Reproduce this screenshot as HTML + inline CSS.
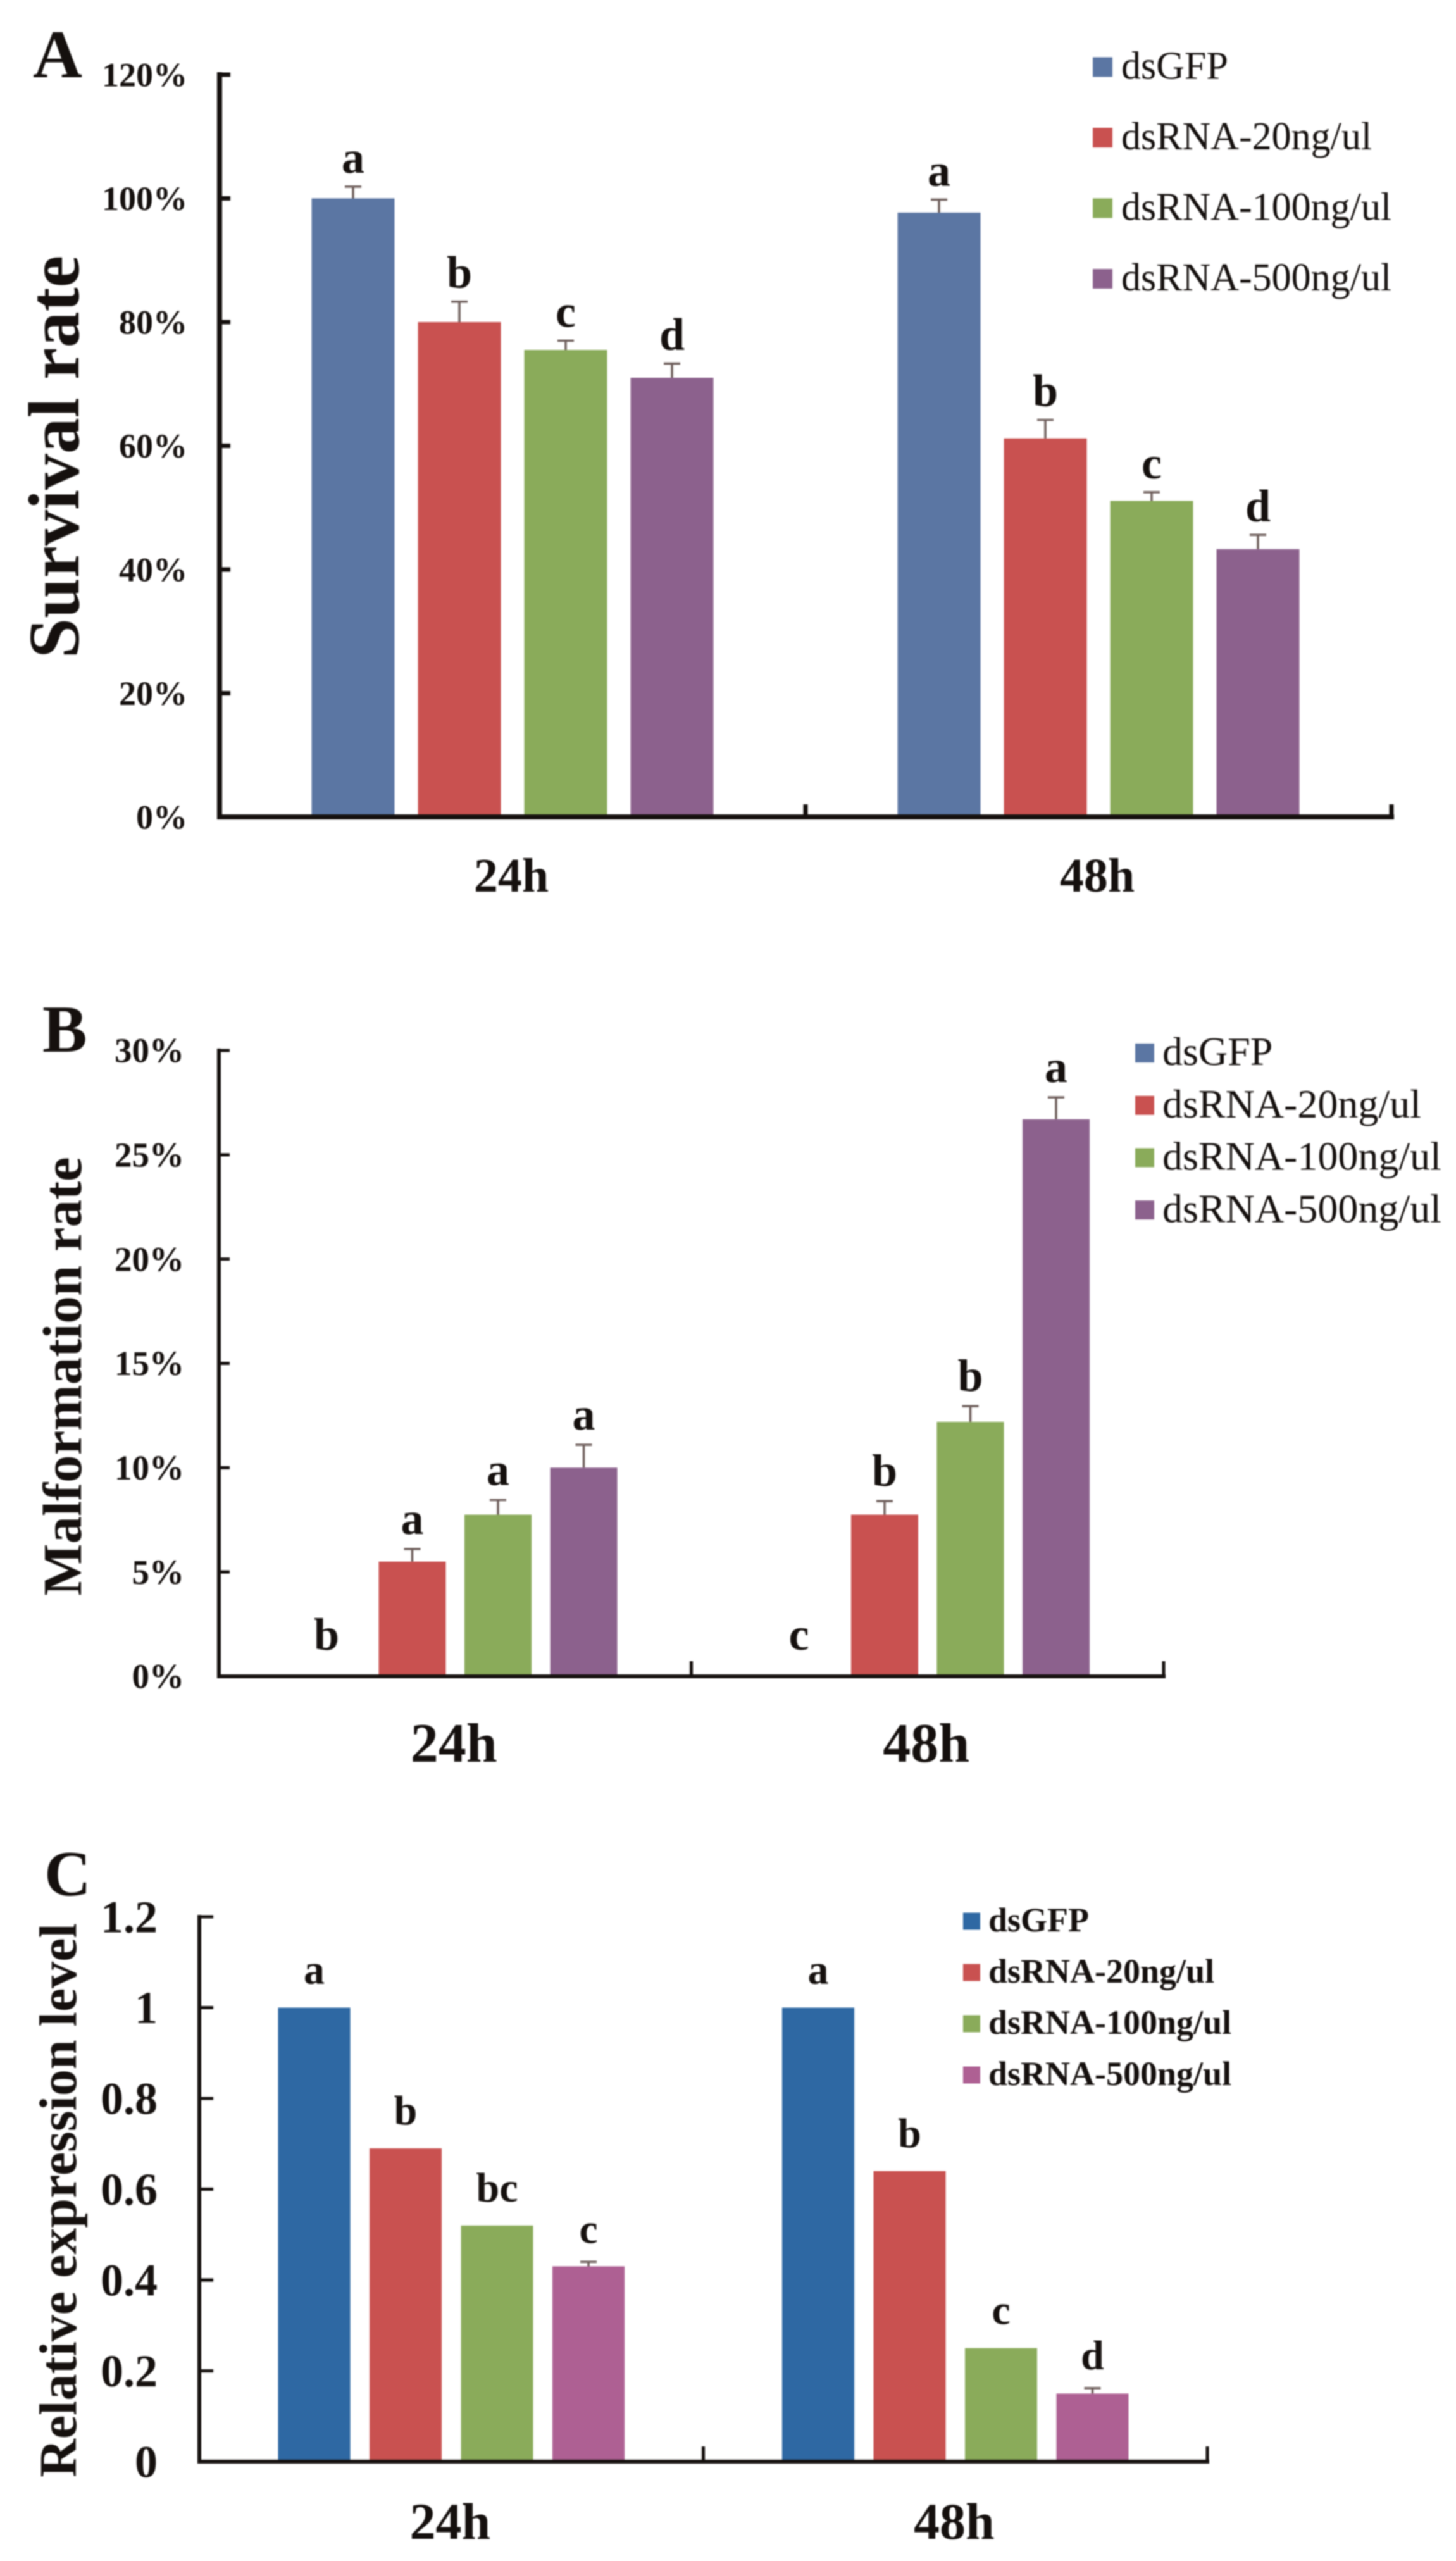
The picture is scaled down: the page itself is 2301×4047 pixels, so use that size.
<!DOCTYPE html>
<html lang="en">
<head>
<meta charset="utf-8">
<title>Survival, malformation and relative expression after dsRNA treatment</title>
<style>
  html, body { margin: 0; padding: 0; background: #fff; }
  body { width: 2301px; height: 4047px; overflow: hidden; }
  svg { display: block; filter: blur(1px); }
  text { font-family: "Liberation Serif", "DejaVu Serif", serif; fill: #15100e; }
</style>
</head>
<body>
<svg id="figure" xmlns="http://www.w3.org/2000/svg" width="2301" height="4047" viewBox="0 0 2301 4047"></svg>
<script>
const categories = ['24h', '48h'];
const seriesNames = ['dsGFP', 'dsRNA-20ng/ul', 'dsRNA-100ng/ul', 'dsRNA-500ng/ul'];

const survivalTicks = [0, 20, 40, 60, 80, 100, 120];
const survivalValues24h = [100, 80, 75.5, 71];
const survivalValues48h = [97.7, 61.2, 51.1, 43.3];
const survivalErrors24h = [1.9, 3.3, 1.5, 2.3];
const survivalErrors48h = [2.1, 3, 1.4, 2.3];
const survivalLetters24h = ['a', 'b', 'c', 'd'];
const survivalLetters48h = ['a', 'b', 'c', 'd'];

const malformationTicks = [0, 5, 10, 15, 20, 25, 30];
const malformationValues24h = [0, 5.5, 7.75, 10];
const malformationValues48h = [0, 7.75, 12.2, 26.7];
const malformationErrors24h = [0, 0.6, 0.7, 1.1];
const malformationErrors48h = [0, 0.65, 0.75, 1.05];
const malformationLetters24h = ['b', 'a', 'a', 'a'];
const malformationLetters48h = ['c', 'b', 'b', 'a'];

const expressionTicks = [0, 0.2, 0.4, 0.6, 0.8, 1, 1.2];
const expressionValues24h = [1, 0.69, 0.52, 0.43];
const expressionValues48h = [1, 0.64, 0.25, 0.15];
const expressionErrors24h = [0, 0, 0, 0.01];
const expressionErrors48h = [0, 0, 0, 0.012];
const expressionLetters24h = ['a', 'b', 'bc', 'c'];
const expressionLetters48h = ['a', 'b', 'c', 'd'];

const svg = document.getElementById('figure');
const NS = 'http://www.w3.org/2000/svg';

function make(parent, tag, props, content) {
  const el = document.createElementNS(NS, tag);
  Object.keys(props).forEach(function (k) { el.setAttribute(k, props[k]); });
  if (content !== undefined) el.textContent = content;
  parent.appendChild(el);
  return el;
}

function drawPanel(p) {
  const group = make(svg, 'g', {});
  
  

  const yScale = function (v) {
    return p.baseY - (v - p.ticks[0]) / (p.ticks[p.ticks.length - 1] - p.ticks[0]) * (p.baseY - p.topY);
  };
  const bandWidth = (p.endX - p.axisX) / categories.length;
  const bandCenter = function (i) { return p.axisX + bandWidth * (i + 0.5); };
  const barX = function (c, s) {
    return bandCenter(c) + (s - (seriesNames.length - 1) / 2) * p.barStep - p.barWidth / 2;
  };

  const panelLetter = make(group, 'text', { x: p.letterX, y: p.letterY, 'font-size': p.letterSize, 'font-weight': 'bold' }, p.letter);
  
  

  const yTitle = make(group, 'text', {
    transform: 'translate(' + p.titleX + ',' + p.titleY + ') rotate(-90)',
    'text-anchor': 'middle', 'font-size': p.titleSize, 'font-weight': 'bold'
  }, p.title);
  
  

  p.values.forEach(function (series, c) {
    series.forEach(function (v, s) {
      const x = barX(c, s);
      const yTop = yScale(v);
      if (v > 0) {
        if (p.errors[c][s] > 0) {
          const yErr = yScale(v + p.errors[c][s]);
          const cx = x + p.barWidth / 2;
          const errorStem = make(group, 'line', { x1: cx, x2: cx, y1: yTop, y2: yErr, stroke: '#6f5f5c', 'stroke-width': 3.5 });
          
          
          const errorCap = make(group, 'line', { x1: cx - 13, x2: cx + 13, y1: yErr, y2: yErr, stroke: '#6f5f5c', 'stroke-width': 3.5 });
          
          
        }
        const bar = make(group, 'rect', { x: x, y: yTop, width: p.barWidth, height: p.baseY - yTop, fill: p.colors[s] });
        
        
      }
      const letterY = yScale(v + p.errors[c][s]) - (p.errors[c][s] > 0 ? p.capGap : p.barGap);
      const sig = make(group, 'text', {
        x: x + p.barWidth / 2, y: v > 0 ? letterY : p.baseY - p.zeroGap,
        'text-anchor': 'middle', 'font-size': p.sigSize, 'font-weight': 'bold'
      }, p.letters[c][s]);
      
      
    });
  });

  const yAxis = make(group, 'line', { x1: p.axisX, x2: p.axisX, y1: p.topY - p.axisW / 2, y2: p.baseY + p.axisW / 2, stroke: '#15100e', 'stroke-width': p.axisW });
  
  
  const xAxis = make(group, 'line', { x1: p.axisX - p.axisW / 2, x2: p.endX + p.axisW / 2, y1: p.baseY, y2: p.baseY, stroke: '#15100e', 'stroke-width': p.axisW });
  
  

  p.ticks.forEach(function (t, i) {
    const y = yScale(t);
    if (i > 0) {
      const tick = make(group, 'line', { x1: p.axisX, x2: p.axisX + p.tickLen, y1: y, y2: y, stroke: '#15100e', 'stroke-width': p.axisW - 1 });
      
      
    }
    const label = make(group, 'text', { x: p.tickLabelX, y: y + p.tickSize * 0.34, 'text-anchor': 'end', 'font-size': p.tickSize, 'font-weight': 'bold' }, t + p.suffix);
    
    
  });

  categories.forEach(function (name, i) {
    const boundary = p.axisX + bandWidth * (i + 1);
    const xTick = make(group, 'line', { x1: boundary, x2: boundary, y1: p.baseY, y2: p.baseY - p.xTickLen, stroke: '#15100e', 'stroke-width': p.axisW - 1 });
    
    
    const catLabel = make(group, 'text', { x: bandCenter(i) - 2, y: p.catY, 'text-anchor': 'middle', 'font-size': p.catSize, 'font-weight': 'bold' }, name);
    
    
  });

  const legend = make(group, 'g', {});
  
  
  seriesNames.forEach(function (name, i) {
    const cy = p.legendY + i * p.legendStep;
    const swatch = make(legend, 'rect', { x: p.legendX, y: cy - p.swatch / 2, width: p.swatch, height: p.swatch, fill: p.colors[i] });
    
    
    const entry = make(legend, 'text', { x: p.legendTextX, y: cy + p.legendSize * 0.3, 'font-size': p.legendSize, 'font-weight': p.legendWeight }, name);
    
    
  });
}

const coloursAB = ['#5b76a3', '#c95150', '#8aab5a', '#8c618d'];
const coloursC = ['#2e68a3', '#c95150', '#8aab5a', '#ae6093'];

drawPanel({
  id: 'survival', letter: 'A', letterX: 52, letterY: 122, letterSize: 108,
  title: 'Survival rate', titleX: 124, titleY: 722, titleSize: 114,
  ticks: survivalTicks, suffix: '%', values: [survivalValues24h, survivalValues48h],
  errors: [survivalErrors24h, survivalErrors48h], letters: [survivalLetters24h, survivalLetters48h],
  colors: coloursAB, axisX: 347, endX: 2199, topY: 118, baseY: 1291, axisW: 8,
  barWidth: 131, barStep: 168, tickLen: 17, xTickLen: 20, tickLabelX: 296, tickSize: 54,
  capGap: 22, barGap: 30, zeroGap: 30, sigSize: 72, catY: 1409, catSize: 76,
  legendX: 1727, legendTextX: 1772, legendY: 106, legendStep: 111.5, swatch: 31, legendSize: 62, legendWeight: 'normal'
});

drawPanel({
  id: 'malformation', letter: 'B', letterX: 67, letterY: 1662, letterSize: 106,
  title: 'Malformation rate', titleX: 128, titleY: 2175, titleSize: 87,
  ticks: malformationTicks, suffix: '%', values: [malformationValues24h, malformationValues48h],
  errors: [malformationErrors24h, malformationErrors48h], letters: [malformationLetters24h, malformationLetters48h],
  colors: coloursAB, axisX: 346, endX: 1839, topY: 1660, baseY: 2649, axisW: 6,
  barWidth: 106, barStep: 135.5, tickLen: 17, xTickLen: 24, tickLabelX: 291, tickSize: 55,
  capGap: 24, barGap: 30, zeroGap: 42, sigSize: 72, catY: 2784, catSize: 88,
  legendX: 1794, legendTextX: 1837, legendY: 1664, legendStep: 82.7, swatch: 30, legendSize: 64, legendWeight: 'normal'
});

drawPanel({
  id: 'expression', letter: 'C', letterX: 70, letterY: 2995, letterSize: 102,
  title: 'Relative expression level', titleX: 120, titleY: 3477, titleSize: 84,
  ticks: expressionTicks, suffix: '', values: [expressionValues24h, expressionValues48h],
  errors: [expressionErrors24h, expressionErrors48h], letters: [expressionLetters24h, expressionLetters48h],
  colors: coloursC, axisX: 315, endX: 1908, topY: 3029, baseY: 3890, axisW: 6,
  barWidth: 114, barStep: 144.5, tickLen: 22, xTickLen: 24, tickLabelX: 249, tickSize: 72,
  capGap: 30, barGap: 38, zeroGap: 30, sigSize: 66, catY: 4012, catSize: 82,
  legendX: 1522, legendTextX: 1562, legendY: 3036, legendStep: 81, swatch: 27, legendSize: 54, legendWeight: 'bold'
});
</script>
</body>
</html>
